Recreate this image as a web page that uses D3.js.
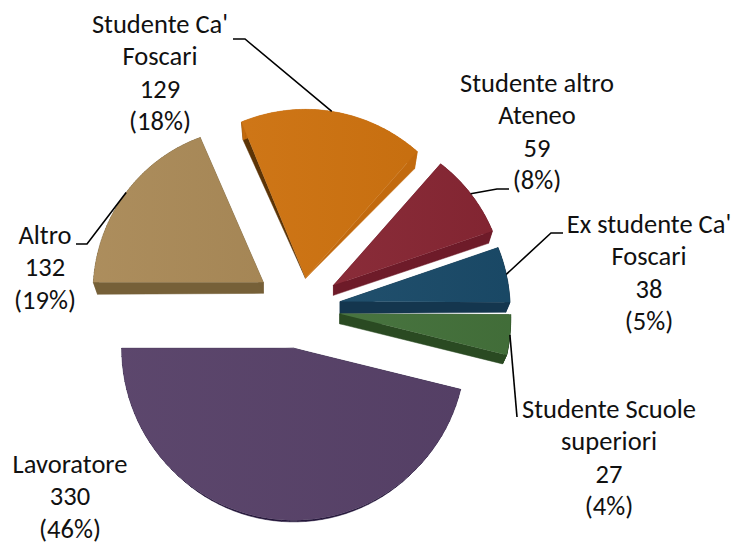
<!DOCTYPE html>
<html>
<head>
<meta charset="utf-8">
<script src="https://cdn.jsdelivr.net/npm/d3@7"></script>
<style>
  html, body { margin: 0; background: #fff; }
  svg { display: block; }
  text { font-family: Carlito, Lato, sans-serif; font-size: 26.5px; fill: #111; text-anchor: middle; }
</style>
</head>
<body>
<svg width="733" height="545"></svg>
<script>
// data, clockwise starting from the left side of the pie
const categories = ["Altro", "Studente Ca' Foscari", "Studente altro Ateneo", "Ex studente Ca' Foscari", "Studente Scuole superiori", "Lavoratore"];
const values = [132, 129, 59, 38, 27, 330];
// percentages as printed on the chart
const percents = ["19%", "18%", "8%", "5%", "4%", "46%"];

// how the category names wrap in the labels
const labelLines = [["Altro"], ["Studente Ca'", "Foscari"], ["Studente altro", "Ateneo"], ["Ex studente Ca'", "Foscari"], ["Studente Scuole", "superiori"], ["Lavoratore"]];

// colours
const topColors = ["#aa8a58", "#cd7210", "#862633", "#1a4a68", "#43703a", "#574168"];
const wallColors = ["#766038", "#c26a0e", "#6e1b29", "#14364e", "#2a4a22", "#24163a"];
const startWallColors = ["#766038", "#5c3406", "#6e1b29", "#14364e", "#2a4a22", "#24163a"];

// layout of each slice
const explode = [45, 29, 39, 39.5, 39, 40];
const nudgeX = [0, 0, 0, 0, 0, -2.5];
const nudgeY = [0, 0, 0, 1, 2, 1.5];
const startTrim = [0, 0.022, 0, 0, 0, 0];
const radiusStart = [170, 169, 162, 167, 171, 172];
const radiusEnd = [158, 169, 168, 170, 172, 172];
const depthApex = [11, 0, 10, 12, 10, 0];
const depthArc = [12, 14, 11, 10, 10, 6];
const labelX = [45, 160, 537, 649, 609, 70];
const labelY = [244, 33, 92, 233, 418, 473];
const lineStep = 32.4;
// leader elbows: [x, y] points between the slice and the label
const leaderPoints = [[[87, 244], [76, 244]], [[245, 39], [233, 39]], [[497, 189], [509, 189]], [[551, 233], [563, 233]], [[517, 417]], []];

const cx = 301;
const cy = 307;
const shrink = 0.975;

const svg = d3.select("svg");

const pie = d3.pie().sort(null).startAngle(-Math.PI / 2).endAngle(Math.PI * 1.5);
const arcs = pie(values);

// angle 0 is up, clockwise, same as d3.arc
function polar(a, r) {
  return [r * Math.sin(a), -r * Math.cos(a)];
}

const slices = arcs.map(function(d, i) {
  const mid = (d.startAngle + d.endAngle) / 2;
  const off = polar(mid, explode[i]);
  const apex = [cx + off[0] + nudgeX[i], cy + off[1] + nudgeY[i]];
  const radius = d3.scaleLinear().domain([d.startAngle, d.endAngle]).range([radiusStart[i], radiusEnd[i]]);
  const start = d.startAngle + startTrim[i];
  const angles = d3.range(0, 61).map(k => start + (d.endAngle - start) * k / 60);
  const top = [apex].concat(angles.map(function(a) {
    const p = polar(a, radius(a));
    return [apex[0] + p[0], apex[1] + p[1]];
  }));
  const bottom = [[apex[0], apex[1] + depthApex[i]]].concat(angles.map(function(a) {
    const p = polar(a, radius(a) * shrink);
    return [apex[0] + p[0], apex[1] + p[1] + depthArc[i]];
  }));
  const q = polar(mid, radius(mid));
  return { i: i, top: top, bottom: bottom, anchor: [apex[0] + q[0], apex[1] + q[1]] };
});

const polygon = d3.line();

const defs = svg.append("defs");
const sheen = defs.append("linearGradient").attr("id", "sheen");
sheen.append("stop").attr("offset", 0).attr("stop-color", "#fff").attr("stop-opacity", 0.03);
sheen.append("stop").attr("offset", 1).attr("stop-color", "#000").attr("stop-opacity", 0.03);

// side walls first, one quad per outline step
const quads = [];
slices.forEach(function(s) {
  const n = s.top.length;
  for (let k = 0; k < n; k++) {
    const next = (k + 1) % n;
    quads.push({
      points: [s.top[k], s.top[next], s.bottom[next], s.bottom[k]],
      color: k === 0 ? startWallColors[s.i] : wallColors[s.i]
    });
  }
});

svg.append("g").selectAll("path")
  .data(quads)
  .enter().append("path")
    .attr("d", d => polygon(d.points) + "Z")
    .attr("fill", d => d.color)
    .attr("stroke", d => d.color)
    .attr("stroke-width", 0.5);

// top faces
const faces = svg.append("g");
faces.selectAll(".face")
  .data(slices)
  .enter().append("path")
    .attr("class", "face")
    .attr("d", d => polygon(d.top) + "Z")
    .attr("fill", d => topColors[d.i]);
faces.selectAll(".sheen")
  .data(slices)
  .enter().append("path")
    .attr("class", "sheen")
    .attr("d", d => polygon(d.top) + "Z")
    .attr("fill", "url(#sheen)");

// leader lines
svg.append("g").selectAll("path")
  .data(slices.filter(d => leaderPoints[d.i].length > 0))
  .enter().append("path")
    .attr("d", d => polygon([d.anchor].concat(leaderPoints[d.i])))
    .attr("fill", "none")
    .attr("stroke", "#000")
    .attr("stroke-width", 1.6);

// labels
const labels = svg.append("g").selectAll("text")
  .data(categories)
  .enter().append("text")
    .attr("x", (d, i) => labelX[i])
    .attr("y", (d, i) => labelY[i]);

labels.selectAll("tspan")
  .data((d, i) => labelLines[i].concat([String(values[i]), "(" + percents[i] + ")"]).map(t => ({ t: t, i: i })))
  .enter().append("tspan")
    .attr("x", d => labelX[d.i])
    .attr("dy", (d, k) => k === 0 ? 0 : lineStep)
    .text(d => d.t);
</script>
</body>
</html>
